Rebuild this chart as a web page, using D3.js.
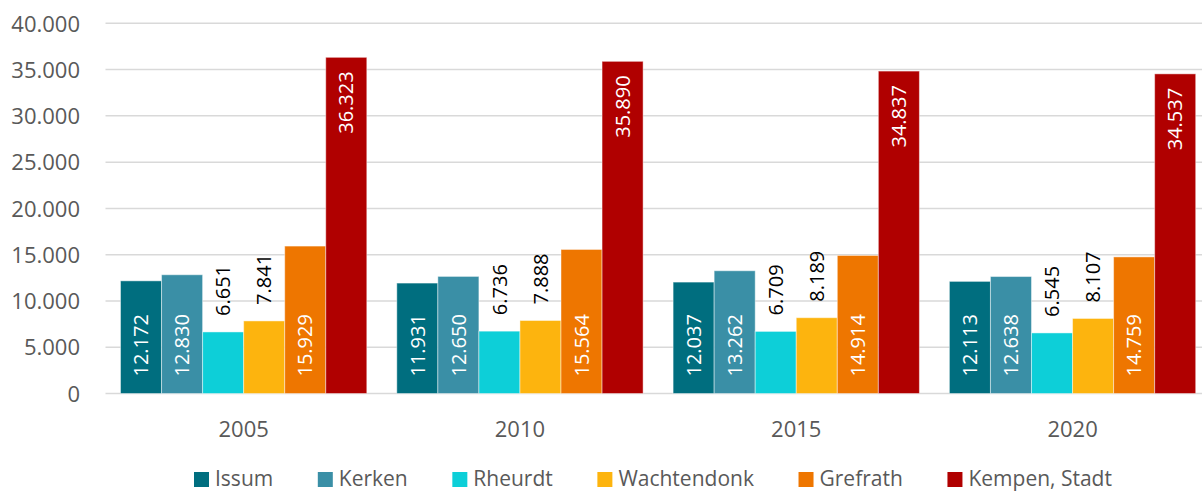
<!DOCTYPE html>
<html>
<head>
<meta charset="utf-8">
<script src="https://cdn.jsdelivr.net/npm/d3@7"></script>
<style>
  html, body { margin: 0; padding: 0; background: #fff; }
  svg { display: block; font-family: "Open Sans", "Noto Sans", sans-serif; }
</style>
</head>
<body>
<svg id="chart" width="1202" height="492"></svg>
<script>
const years = ["2005", "2010", "2015", "2020"];
const seriesNames = ["Issum", "Kerken", "Rheurdt", "Wachtendonk", "Grefrath", "Kempen, Stadt"];
const issum = [12172, 11931, 12037, 12113];
const kerken = [12830, 12650, 13262, 12638];
const rheurdt = [6651, 6736, 6709, 6545];
const wachtendonk = [7841, 7888, 8189, 8107];
const grefrath = [15929, 15564, 14914, 14759];
const kempen = [36323, 35890, 34837, 34537];
const yTicks = [0, 5000, 10000, 15000, 20000, 25000, 30000, 35000, 40000];

const seriesValues = [issum, kerken, rheurdt, wachtendonk, grefrath, kempen];
const colors = ["#006E7F", "#3A8FA6", "#0DCFD8", "#FDB40E", "#EE7600", "#B00000"];
// label placement per series
const labelPos = ["base", "base", "outside", "outside", "base", "end"];

const fmt = v => d3.format(",")(v).replace(/,/g, ".");

const svg = d3.select("#chart");
const left = 105.5, step = 276.3;
const p = 30 / step;

const x0 = d3.scaleBand().domain(years).range([left, left + step * years.length])
  .paddingInner(p).paddingOuter(p / 2);
const x1 = d3.scaleBand().domain(seriesNames).range([0, x0.bandwidth()]).padding(0);
const y = d3.scaleLinear().domain([0, 40000]).range([393.5, 23.3]);

// gridlines
svg.append("g").selectAll("line").data(yTicks).join("line")
  .attr("x1", left).attr("x2", left + step * years.length)
  .attr("y1", d => y(d)).attr("y2", d => y(d))
  .attr("stroke", "#d9d9d9").attr("stroke-width", 1.5);

// y axis labels
const yAxis = d3.axisLeft(y).tickValues(yTicks).tickFormat(fmt).tickSize(0).tickPadding(0);
const gy = svg.append("g").attr("transform", "translate(80,0)").call(yAxis);
gy.select(".domain").remove();
gy.selectAll("text").attr("fill", "#595959").attr("font-size", 22)
  .attr("font-family", "Open Sans, sans-serif").attr("dy", "0.35em");

// x axis labels
const xAxis = d3.axisBottom(x0).tickSize(0).tickPadding(0);
const gx = svg.append("g").call(xAxis);
gx.select(".domain").remove();
gx.selectAll("text").attr("fill", "#595959").attr("font-size", 22)
  .attr("font-family", "Open Sans, sans-serif").attr("y", 437).attr("dy", 0);

// data
const rows = [];
years.forEach((yr, i) => {
  seriesNames.forEach((s, j) => {
    rows.push({ year: yr, series: s, value: seriesValues[j][i], color: colors[j], pos: labelPos[j] });
  });
});

svg.append("g").selectAll("rect").data(rows).join("rect")
  .attr("x", d => x0(d.year) + x1(d.series))
  .attr("width", x1.bandwidth())
  .attr("y", d => y(d.value))
  .attr("height", d => y(0) - y(d.value))
  .attr("fill", d => d.color)
  .attr("stroke", "#ffffff").attr("stroke-opacity", 0.45).attr("stroke-width", 1);

// labels
svg.append("g").selectAll("text").data(rows).join("text")
  .attr("transform", d => {
    const cx = x0(d.year) + x1(d.series) + x1.bandwidth() / 2;
    let ty;
    if (d.pos === "base") ty = y(0) - 17;
    else if (d.pos === "end") ty = y(d.value) + 14;
    else ty = y(d.value) - 16;
    return `translate(${cx},${ty}) rotate(-90)`;
  })
  .attr("text-anchor", d => d.pos === "end" ? "end" : "start")
  .attr("dy", "0.36em")
  .attr("font-size", 20)
  .attr("fill", d => d.pos === "outside" ? "#000000" : "#ffffff")
  .text(d => fmt(d.value));

// legend
const lg = svg.append("g");
let lx = 194;
seriesNames.forEach((s, j) => {
  lg.append("rect").attr("x", lx).attr("y", 472).attr("width", 15).attr("height", 15).attr("fill", colors[j]);
  const t = lg.append("text").attr("x", lx + 21).attr("y", 486).attr("font-size", 21)
    .attr("fill", "#595959").text(s);
  const w = t.node().getComputedTextLength();
  lx = lx + 21 + w + 44.6;
});
</script>
</body>
</html>
